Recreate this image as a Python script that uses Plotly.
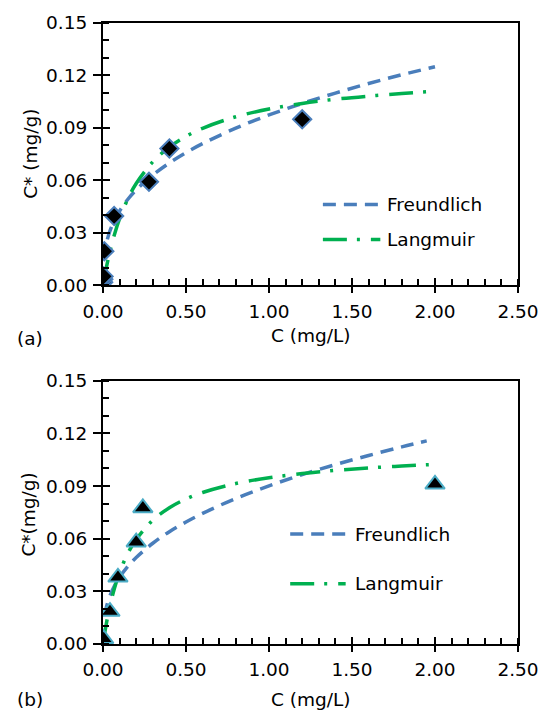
import plotly.graph_objects as go

# ---------------- data ----------------
# panel (a): experimental points
C_a = [0.001, 0.002, 0.004, 0.008, 0.067, 0.277, 0.40, 1.20]
q_a = [0.0017, 0.0034, 0.0051, 0.0195, 0.0396, 0.0592, 0.0782, 0.0949]
# panel (a): Freundlich model curve
Cf_a = [0.005, 0.01, 0.02, 0.04, 0.07, 0.1, 0.15, 0.2, 0.3, 0.4, 0.5, 0.6, 0.8, 1.0, 1.2, 1.4, 1.6, 1.8, 2.0]
qf_a = [0.0145, 0.0186, 0.0238, 0.0306, 0.0374, 0.0425, 0.0492, 0.0546, 0.0631, 0.0700, 0.0759, 0.0810,
        0.0899, 0.0974, 0.1040, 0.1099, 0.1154, 0.1204, 0.1250]
# panel (a): Langmuir model curve
Cl_a = [0.002, 0.01, 0.02, 0.04, 0.07, 0.1, 0.15, 0.2, 0.3, 0.4, 0.5, 0.6, 0.8, 1.0, 1.2, 1.4, 1.6, 1.8, 2.0]
ql_a = [0.0011, 0.0053, 0.0101, 0.0187, 0.0294, 0.0381, 0.0495, 0.0582, 0.0706, 0.0791, 0.0852, 0.0898,
        0.0964, 0.1008, 0.1040, 0.1064, 0.1082, 0.1097, 0.1110]

# panel (b): experimental points
C_b = [0.001, 0.002, 0.004, 0.042, 0.090, 0.200, 0.240, 2.00]
q_b = [0.0005, 0.0015, 0.0030, 0.0185, 0.0380, 0.0580, 0.0775, 0.0910]
# panel (b): Freundlich model curve
Cf_b = [0.01, 0.02, 0.04, 0.07, 0.1, 0.15, 0.2, 0.3, 0.4, 0.5, 0.6, 0.8, 1.0, 1.2, 1.4, 1.6, 1.8, 1.95]
qf_b = [0.0161, 0.0209, 0.0270, 0.0333, 0.0381, 0.0443, 0.0493, 0.0574, 0.0640, 0.0695, 0.0744, 0.0829,
        0.0901, 0.0965, 0.1022, 0.1074, 0.1123, 0.1157]
# panel (b): Langmuir model curve
Cl_b = [0.001, 0.01, 0.02, 0.04, 0.07, 0.1, 0.15, 0.2, 0.3, 0.4, 0.5, 0.6, 0.8, 1.0, 1.2, 1.4, 1.6, 1.8, 2.0]
ql_b = [0.0006, 0.0061, 0.0115, 0.0209, 0.0321, 0.0408, 0.0517, 0.0596, 0.0705, 0.0776, 0.0826, 0.0863,
        0.0914, 0.0947, 0.0971, 0.0989, 0.1003, 0.1014, 0.1023]

x_ticks = [0, 0.5, 1.0, 1.5, 2.0, 2.5]
x_ticklabels = ["0.00", "0.50", "1.00", "1.50", "2.00", "2.50"]
y_ticks = [0, 0.03, 0.06, 0.09, 0.12, 0.15]
y_ticklabels = ["0.00", "0.03", "0.06", "0.09", "0.12", "0.15"]

series_names = ["Freundlich", "Langmuir"]
panel_labels = ["(a)", "(b)"]
x_title = "C (mg/L)"
y_titles = ["C* (mg/g)", "C*(mg/g)"]

# ---------------- styles ----------------
FONT = "DejaVu Sans"
FS = 18.5
BLUE = "#4a7ebb"
GREEN = "#00b050"
TRI_EDGE = "#4bacc6"
F_DASH = "13px,8px"
L_DASH = "24px,10px,3px,11px"
LW = 3.5

fig = go.Figure()

# curves
fig.add_trace(go.Scatter(x=Cf_a, y=qf_a, mode="lines", line=dict(color=BLUE, width=LW, dash=F_DASH, shape="spline"),
                         xaxis="x", yaxis="y", showlegend=False))
fig.add_trace(go.Scatter(x=Cl_a, y=ql_a, mode="lines", line=dict(color=GREEN, width=LW, dash=L_DASH, shape="spline"),
                         xaxis="x", yaxis="y", showlegend=False))
fig.add_trace(go.Scatter(x=Cf_b, y=qf_b, mode="lines", line=dict(color=BLUE, width=LW, dash=F_DASH, shape="spline"),
                         xaxis="x2", yaxis="y2", showlegend=False))
fig.add_trace(go.Scatter(x=Cl_b, y=ql_b, mode="lines", line=dict(color=GREEN, width=LW, dash=L_DASH, shape="spline"),
                         xaxis="x2", yaxis="y2", showlegend=False))
# points
fig.add_trace(go.Scatter(x=C_a, y=q_a, mode="markers",
                         marker=dict(symbol="diamond", size=14, color="black", line=dict(color=BLUE, width=2)),
                         xaxis="x", yaxis="y", showlegend=False))
fig.add_trace(go.Scatter(x=C_b, y=q_b, mode="markers",
                         marker=dict(symbol="triangle-up", size=17, color="black", line=dict(color=TRI_EDGE, width=2)),
                         xaxis="x2", yaxis="y2", showlegend=False))
# empty helper traces for overlay axes (inside half of major ticks)
fig.add_trace(go.Scatter(x=[], y=[], xaxis="x3", yaxis="y", showlegend=False))
fig.add_trace(go.Scatter(x=[], y=[], xaxis="x", yaxis="y3", showlegend=False))
fig.add_trace(go.Scatter(x=[], y=[], xaxis="x4", yaxis="y2", showlegend=False))
fig.add_trace(go.Scatter(x=[], y=[], xaxis="x2", yaxis="y4", showlegend=False))

TOP_DOM = [0.5776, 1.0]
BOT_DOM = [0.0, 0.424]
XR = [0, 2.5]
YR = [0, 0.15]

def main_x(anchor):
    return dict(range=XR, anchor=anchor, domain=[0, 1], tickmode="array", tickvals=x_ticks, ticktext=x_ticklabels,
                ticks="outside", ticklen=6, tickwidth=1.8, tickcolor="black",
                minor=dict(ticks="inside", dtick=0.1, ticklen=6, tickwidth=1.5, tickcolor="black"),
                showline=True, linewidth=2, linecolor="black", mirror=True,
                showgrid=False, zeroline=False, ticklabelstandoff=2,
                tickfont=dict(family=FONT, size=FS, color="black"))

def main_y(anchor, dom):
    return dict(range=YR, anchor=anchor, domain=dom, tickmode="array", tickvals=y_ticks, ticktext=y_ticklabels,
                ticks="outside", ticklen=8, tickwidth=1.8, tickcolor="black",
                minor=dict(ticks="inside", dtick=0.01, ticklen=6, tickwidth=1.5, tickcolor="black"),
                showline=True, linewidth=2, linecolor="black", mirror=True,
                showgrid=False, zeroline=False, ticklabelstandoff=2,
                tickfont=dict(family=FONT, size=FS, color="black"))

def over_x(over, anchor):
    return dict(range=XR, overlaying=over, anchor=anchor, tickmode="array", tickvals=x_ticks,
                ticks="inside", ticklen=7, tickwidth=1.8, tickcolor="black",
                showticklabels=False, showline=False, showgrid=False, zeroline=False)

def over_y(over, anchor):
    return dict(range=YR, overlaying=over, anchor=anchor, side="left", tickmode="array", tickvals=y_ticks,
                ticks="inside", ticklen=7, tickwidth=1.8, tickcolor="black",
                showticklabels=False, showline=False, showgrid=False, zeroline=False)

fig.update_layout(
    width=551, height=713,
    margin=dict(l=103, r=29, t=19, b=69),
    paper_bgcolor="white", plot_bgcolor="white",
    font=dict(family=FONT, size=FS, color="black"),
    showlegend=False,
    xaxis=main_x("y"), yaxis=main_y("x", TOP_DOM),
    xaxis2=main_x("y2"), yaxis2=main_y("x2", BOT_DOM),
    xaxis3=over_x("x", "y"), yaxis3=over_y("y", "x"),
    xaxis4=over_x("x2", "y2"), yaxis4=over_y("y2", "x2"),
)

# manual legends (line samples + labels), paper coordinates
def px_x(p):
    return (p - 103) / 419.0

def px_y(p):
    return (644 - p) / 625.0

legend_specs = [
    # (y_px, x0_px, x1_px, text_x_px, color, dash, name)
    (201.7, 325, 383, 388, BLUE, F_DASH, series_names[0]),
    (237.0, 325, 383, 388, GREEN, L_DASH, series_names[1]),
    (533.3, 292, 348, 355, BLUE, F_DASH, series_names[0]),
    (583.3, 292, 348, 355, GREEN, L_DASH, series_names[1]),
]
for ypx, x0, x1, tx, col, dsh, name in legend_specs:
    fig.add_shape(type="line", xref="paper", yref="paper", x0=px_x(x0), x1=px_x(x1), y0=px_y(ypx), y1=px_y(ypx),
                  line=dict(color=col, width=LW, dash=dsh))
    fig.add_annotation(xref="paper", yref="paper", x=px_x(tx), y=px_y(ypx), text=name, showarrow=False,
                       xanchor="left", yanchor="middle", font=dict(family=FONT, size=FS, color="black"))

# axis titles and panel labels
fig.add_annotation(xref="paper", yref="paper", x=0.5, y=px_y(334), text=x_title, showarrow=False,
                   xanchor="center", yanchor="middle")
fig.add_annotation(xref="paper", yref="paper", x=0.5, y=px_y(700), text=x_title, showarrow=False,
                   xanchor="center", yanchor="middle")
fig.add_annotation(xref="paper", yref="paper", x=px_x(29), y=px_y(151), text=y_titles[0], showarrow=False,
                   textangle=-90, xanchor="center", yanchor="middle")
fig.add_annotation(xref="paper", yref="paper", x=px_x(28), y=px_y(514), text=y_titles[1], showarrow=False,
                   textangle=-90, xanchor="center", yanchor="middle")
fig.add_annotation(xref="paper", yref="paper", x=px_x(14), y=px_y(337), text=panel_labels[0], showarrow=False,
                   xanchor="left", yanchor="middle")
fig.add_annotation(xref="paper", yref="paper", x=px_x(14), y=px_y(700), text=panel_labels[1], showarrow=False,
                   xanchor="left", yanchor="middle")

fig.write_html("out.html",
               config={"displayModeBar": False},
               post_script="document.body.style.margin='0';document.body.style.padding='0';"
                           "document.body.style.overflow='hidden';")
